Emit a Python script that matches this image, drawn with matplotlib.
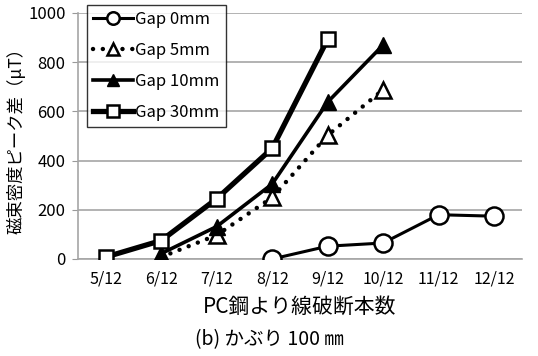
import matplotlib
matplotlib.use('Agg')
import matplotlib.pyplot as plt

plt.rcParams['font.family'] = ['Noto Sans CJK JP', 'DejaVu Sans']

cats = ['5/12', '6/12', '7/12', '8/12', '9/12', '10/12', '11/12', '12/12']

# peak difference of flux density (uT) for each gap, indexed by category position
gap0_x = [3, 4, 5, 6, 7]
gap0_y = [0, 52, 65, 180, 174]
gap5_x = [1, 2, 3, 4, 5]
gap5_y = [8, 97, 250, 503, 688]
gap10_x = [1, 2, 3, 4, 5]
gap10_y = [22, 132, 305, 638, 870]
gap30_x = [0, 1, 2, 3, 4]
gap30_y = [8, 75, 245, 450, 893]

fig = plt.figure(figsize=(5.38, 3.56), dpi=100)
ax = fig.add_axes([0.145, 0.2725, 0.825, 0.691])

ax.plot(gap0_x, gap0_y, '-o', color='black', lw=2.2, ms=13,
        mfc='white', mec='black', mew=1.8, label='Gap 0mm', zorder=3)
ax.plot(gap5_x, gap5_y, marker='^', ls=(0, (0.01, 2.2)), color='black', lw=3.2,
        ms=11, mfc='white', mec='black', mew=1.8, label='Gap 5mm', zorder=3,
        dash_capstyle='round')
ax.plot(gap10_x, gap10_y, '-^', color='black', lw=2.6, ms=11,
        mfc='black', mec='black', label='Gap 10mm', zorder=4)
ax.plot(gap30_x, gap30_y, '-s', color='black', lw=3.8, ms=10,
        mfc='white', mec='black', mew=1.8, label='Gap 30mm', zorder=5)

ax.set_xlim(-0.5, 7.5)
ax.set_ylim(0, 1000)
ax.set_yticks(range(0, 1001, 200))
ax.set_xticks(range(len(cats)))
ax.set_xticklabels(cats, fontsize=11.5)
ax.tick_params(axis='y', labelsize=12, length=4, color='#999999', pad=5)
ax.tick_params(axis='x', length=0, pad=8)
ax.grid(axis='y', color='#a6a6a6', lw=1.2)
ax.set_axisbelow(True)
for s in ['top', 'right']:
    ax.spines[s].set_visible(False)
for s in ['left', 'bottom']:
    ax.spines[s].set_color('#a6a6a6')
    ax.spines[s].set_linewidth(1.2)

ax.set_ylabel('磁束密度ピーク差（μT）', fontsize=12.5, labelpad=2)
ax.set_xlabel('PC鋼より線破断本数', fontsize=15, labelpad=6)
fig.text(0.5, 0.03, '(b) かぶり 100 ㎜', fontsize=14, ha='center')

leg = ax.legend(loc='upper left', bbox_to_anchor=(0.162, 0.986),
                bbox_transform=fig.transFigure, fontsize=12, frameon=True,
                fancybox=False, edgecolor='black', handlelength=2.4,
                handletextpad=0.15, borderpad=0.35, labelspacing=0.85,
                borderaxespad=0)
leg.get_frame().set_linewidth(1.0)
for h in leg.legend_handles:
    h.set_markersize(9)

fig.savefig('out.png', dpi=100)
